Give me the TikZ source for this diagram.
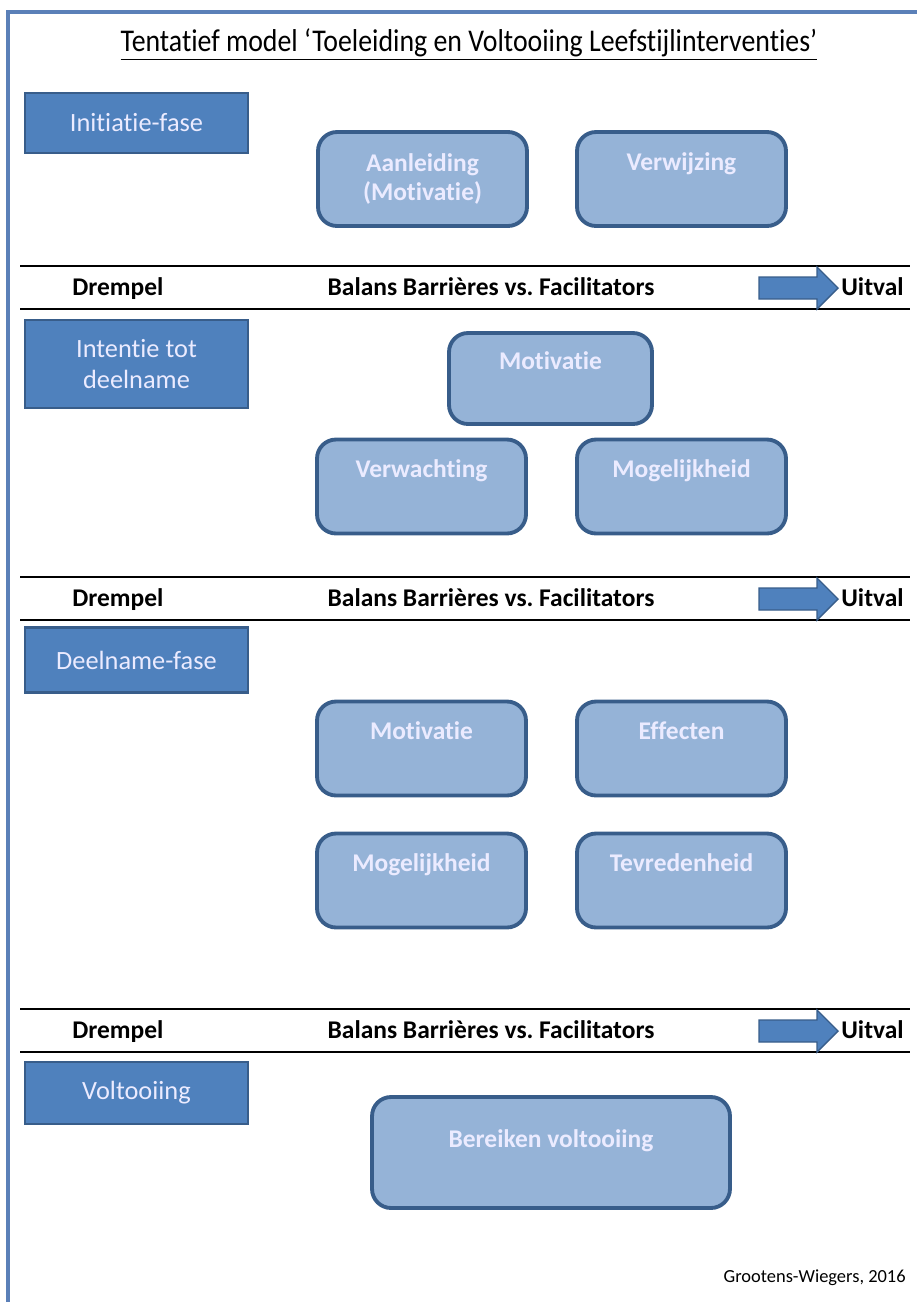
\documentclass[tikz,border=0pt]{standalone}
\usepackage{fontspec}
\setmainfont[Ligatures=NoCommon]{Carlito}
\usepackage{xcolor}
\usetikzlibrary{calc}
\definecolor{phaseblue}{HTML}{4F81BD}
\definecolor{edgeblue}{HTML}{385D8A}
\definecolor{factorblue}{HTML}{95B3D7}
\definecolor{frameblue}{HTML}{5B80B8}
\colorlet{boxtext}{white!92!blue}
\tikzstyle{phase}=[draw=edgeblue,line width=1.2pt,fill=phaseblue,text=boxtext,
  minimum width=4.46cm,align=center,font=\fontsize{15}{18}\selectfont,inner sep=0pt]
\tikzstyle{factor}=[draw=edgeblue,line width=2.2pt,fill=factorblue,text=boxtext,
  rounded corners=0.38cm,minimum width=4.18cm,minimum height=1.88cm,align=center,
  font=\bfseries\fontsize{14.5}{17}\selectfont,inner sep=0pt]
\tikzstyle{oneline}=[text depth=20pt]
\tikzstyle{bandtext}=[font=\bfseries\fontsize{14.5}{17}\selectfont,inner sep=0pt]
\tikzstyle{outarrow}=[draw=edgeblue,line width=0.8pt,fill=phaseblue]

\begin{document}
\begin{tikzpicture}[x=0.02cm,y=-0.02cm]
  \useasboundingbox (0,0) rectangle (917,1302);
  \draw[frameblue,line width=1.8pt] (8,1302) -- (8,12) -- (917,12);

  % title
  \node[inner sep=0pt,font=\fontsize{18}{20}\selectfont,xscale=0.88] (title) at (469,45)
    {\underline{Tentatief model ‘Toeleiding en Voltooiing Leefstijlinterventies’}};

  % phases
  \node[phase,minimum height=1.2cm]  (initiatie) at (136.5,123) {Initiatie-fase};
  \node[phase,minimum height=1.76cm] (intentie)  at (136.5,364) {Intentie tot\\deelname};
  \node[phase,minimum height=1.3cm]  (deelname)  at (136.5,660) {Deelname-fase};
  \node[phase,minimum height=1.24cm] (voltooiing) at (136.5,1093) {Voltooiing};

  % factors
  \node[factor] (aanleiding) at (422.5,179) {Aanleiding\\(Motivatie)};
  \node[factor,oneline] (verwijzing) at (681.5,179) {Verwijzing};
  \node[factor,oneline,minimum width=4.06cm,minimum height=1.82cm] (motivatieA) at (550.5,378.5) {Motivatie};
  \node[factor,oneline] (verwachting)   at (421.5,486.5) {Verwachting};
  \node[factor,oneline] (mogelijkheidA) at (681.5,486.5) {Mogelijkheid};
  \node[factor,oneline] (motivatieB)    at (421.5,748.5) {Motivatie};
  \node[factor,oneline] (effecten)      at (681.5,748.5) {Effecten};
  \node[factor,oneline] (mogelijkheidB) at (421.5,880.5) {Mogelijkheid};
  \node[factor,oneline] (tevredenheid)  at (681.5,880.5) {Tevredenheid};
  \node[factor,oneline,minimum width=7.16cm,minimum height=2.22cm,text depth=16pt] (bereiken) at (551,1152.5) {Bereiken voltooiing};

  % thresholds
  \foreach \y in {288,599,1031}{
    \draw[line width=1pt] (20,\y-22) -- (910,\y-22);
    \draw[line width=1pt] (20,\y+21) -- (910,\y+21);
    \node[bandtext,anchor=base west] (drempel\y) at (72,\y+7) {Drempel};
    \node[bandtext,anchor=base] (balans\y) at (491,\y+7) {Balans Barrières vs.\ Facilitators};
    \draw[outarrow] (759,\y-11) -- (817,\y-11) -- (817,\y-21) -- (838,\y)
      -- (817,\y+21) -- (817,\y+11) -- (759,\y+11) -- cycle;
    \node[bandtext,anchor=base west] (uitval\y) at (841,\y+7) {Uitval};
  }

  \node[inner sep=0pt,anchor=east,font=\fontsize{10.5}{12}\selectfont] (bron) at (906,1278)
    {Grootens-Wiegers, 2016};
\end{tikzpicture}
\end{document}
